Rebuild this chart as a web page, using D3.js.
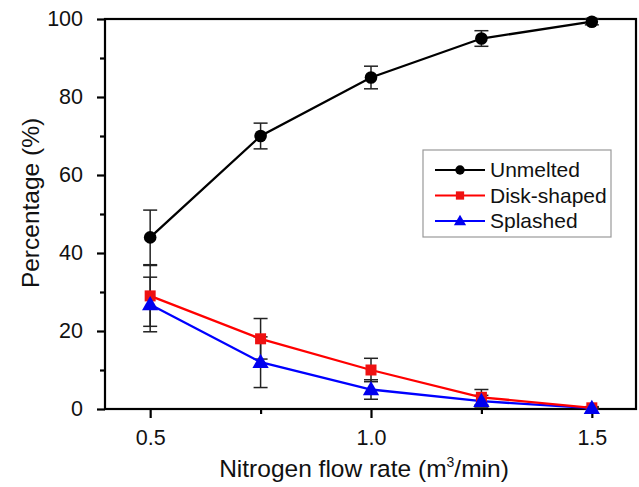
<!DOCTYPE html>
<html><head><meta charset="utf-8">
<script src="https://cdn.jsdelivr.net/npm/d3@7"></script>
<style>body{margin:0;background:#fff;} svg{display:block;font-family:"Liberation Sans",Arial,sans-serif;}</style>
</head><body>
<script>
const flow = [0.5, 0.75, 1.0, 1.25, 1.5];
const unmelted = [44, 70, 85, 95, 99.3];
const unmeltedErr = [7, 3.3, 2.9, 2, 0.8];
const disk = [29, 18, 10, 3, 0.3];
const diskErr = [7.8, 5.2, 3, 2, 0.3];
const splashed = [26.8, 12, 5, 2, 0.2];
const splashedErr = [7, 6.5, 2.5, 1.5, 0.2];
const xTicks = [0.5, 1.0, 1.5];
const xMinor = [0.75, 1.25];
const yTicks = [0, 20, 40, 60, 80, 100];
const yMinor = [10, 30, 50, 70, 90];
const seriesNames = ["Unmelted", "Disk-shaped", "Splashed"];
const colors = ["#000000", "#ff0000", "#0000ff"];

const W = 639, H = 487;
const L = 105, R = 636, T = 19, B = 409;
const svg = d3.select("body").append("svg").attr("width", W).attr("height", H);
const x = d3.scaleLinear().domain([0.4, 1.6]).range([L + 1, R]);
const y = d3.scaleLinear().domain([0, 100]).range([B, T]);

// frame
svg.append("rect").attr("x", L).attr("y", T).attr("width", R - L).attr("height", B - T)
  .attr("fill", "none").attr("stroke", "#000").attr("stroke-width", 2.2);

// axes
const fs = 21.5;
const yAx = svg.append("g").attr("transform", `translate(${L},0)`)
  .call(d3.axisLeft(y).tickValues(yTicks).tickFormat(d3.format("d")).tickSize(8).tickPadding(14));
const yAxm = svg.append("g").attr("transform", `translate(${L},0)`)
  .call(d3.axisLeft(y).tickValues(yMinor).tickFormat("").tickSize(5));
const xAx = svg.append("g").attr("transform", `translate(0,${B})`)
  .call(d3.axisBottom(x).tickValues(xTicks).tickFormat(d3.format(".1f")).tickSize(9).tickPadding(12));
const xAxm = svg.append("g").attr("transform", `translate(0,${B})`)
  .call(d3.axisBottom(x).tickValues(xMinor).tickFormat("").tickSize(5));
[yAx, yAxm, xAx, xAxm].forEach(g => {
  g.select(".domain").remove();
  g.selectAll("line").attr("stroke", "#000").attr("stroke-width", 2.2);
  g.selectAll("text").attr("font-size", fs).attr("fill", "#111").attr("font-family", "Liberation Sans, Arial, sans-serif");
});

// axis titles
svg.append("text").attr("x", 364).attr("y", 477).attr("text-anchor", "middle")
  .attr("font-size", 24.5).attr("fill", "#111")
  .html('Nitrogen flow rate (m<tspan dy="-10" font-size="14">3</tspan><tspan dy="10">/min)</tspan>');
svg.append("text").attr("transform", `translate(39,203) rotate(-90)`)
  .attr("text-anchor", "middle").attr("font-size", 24.5).attr("fill", "#111").text("Percentage (%)");

const all = [
  {vals: unmelted, err: unmeltedErr},
  {vals: disk, err: diskErr},
  {vals: splashed, err: splashedErr}
];
const line = d3.line().x((d, i) => x(flow[i])).y(d => y(d));

// error bars
all.forEach((s, si) => {
  const g = svg.append("g").attr("stroke", "#222").attr("stroke-width", 1.5);
  s.vals.forEach((v, i) => {
    const cx = x(flow[i]);
    const lo = y(v - s.err[i]), hi = y(v + s.err[i]);
    g.append("line").attr("x1", cx).attr("x2", cx).attr("y1", lo).attr("y2", hi);
    g.append("line").attr("x1", cx - 7).attr("x2", cx + 7).attr("y1", lo).attr("y2", lo);
    g.append("line").attr("x1", cx - 7).attr("x2", cx + 7).attr("y1", hi).attr("y2", hi);
  });
});

// lines
[2, 1, 0].forEach(si => {
  svg.append("path").attr("d", line(all[si].vals)).attr("fill", "none")
    .attr("stroke", colors[si]).attr("stroke-width", 2.3);
});

const tri = d3.symbol().type(d3.symbolTriangle).size(115);
function marker(g, si, cx, cy) {
  if (si === 0) g.append("circle").attr("cx", cx).attr("cy", cy).attr("r", 6.3).attr("fill", "#000");
  else if (si === 1) g.append("rect").attr("x", cx - 5.5).attr("y", cy - 5.5).attr("width", 11).attr("height", 11).attr("fill", "#ee1111");
  else g.append("path").attr("d", tri()).attr("transform", `translate(${cx},${cy + 1})`).attr("fill", "#0000ee");
}
[1, 2, 0].forEach(si => {
  const g = svg.append("g");
  all[si].vals.forEach((v, i) => marker(g, si, x(flow[i]), y(v)));
});

// legend
const lg = svg.append("g");
lg.append("rect").attr("x", 423).attr("y", 150).attr("width", 188).attr("height", 87)
  .attr("fill", "#fff").attr("stroke", "#999").attr("stroke-width", 1.2);
seriesNames.forEach((n, i) => {
  const yy = 170 + i * 25.5;
  lg.append("line").attr("x1", 435).attr("x2", 485).attr("y1", yy).attr("y2", yy)
    .attr("stroke", colors[i]).attr("stroke-width", 2);
  const mg = lg.append("g").attr("transform", `translate(460,${yy})scale(0.75)`);
  marker(mg, i, 0, 0);
  lg.append("text").attr("x", 490).attr("y", yy + 7).attr("font-size", 21).attr("fill", "#111").text(n);
});
</script>
</body></html>
